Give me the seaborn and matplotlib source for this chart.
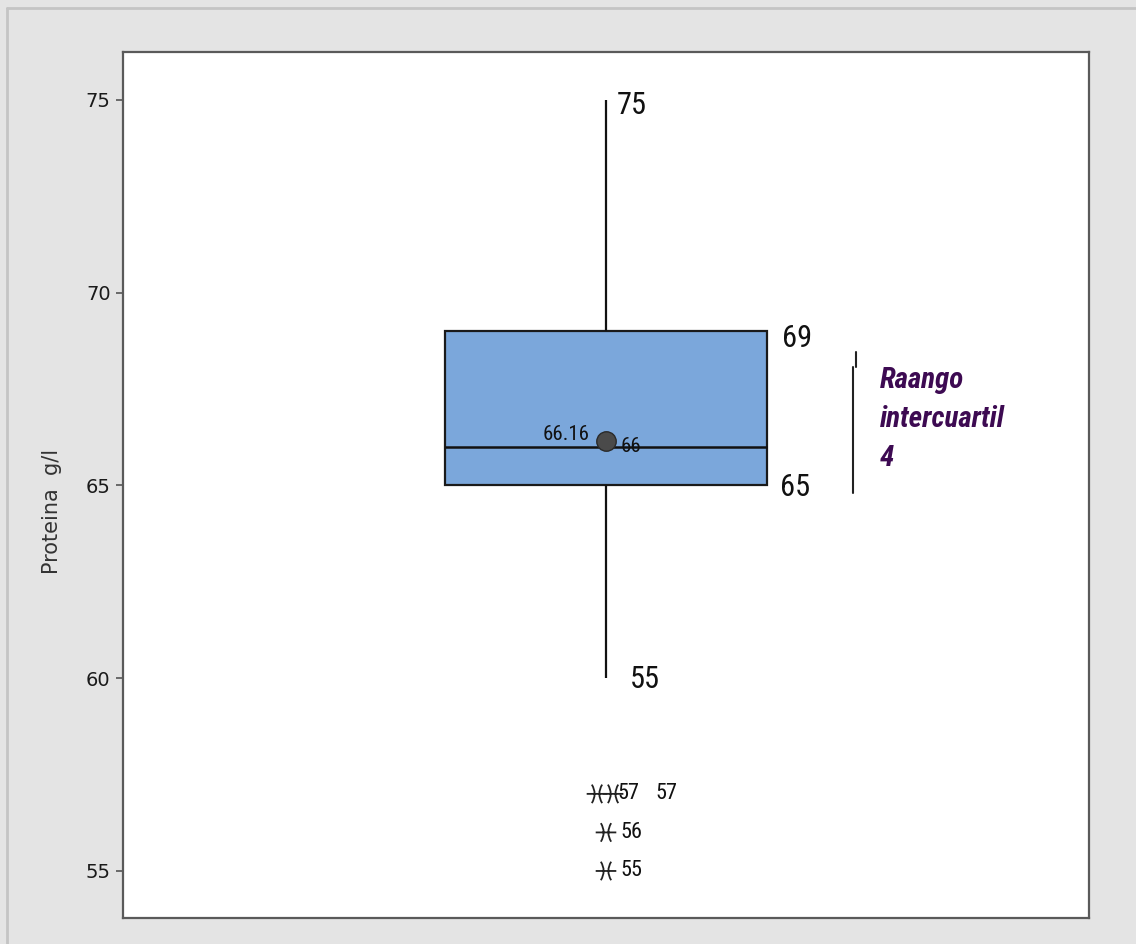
import numpy as np
import matplotlib
matplotlib.use("Agg")
import matplotlib.pyplot as plt
import matplotlib.font_manager as fm
import seaborn as sns
from matplotlib.path import Path
from matplotlib.lines import Line2D

proteina = [55, 56, 57, 57, 60, 65, 65, 65, 65, 66, 66, 66, 66,
            67, 68, 68, 69, 69, 69, 70, 71, 72, 73, 74, 75]
etiquetas_caja = ["75", "69", "65", "55"]   # bigote sup, Q3, Q1, bigote inf (tal como en el original)
yticks = [55, 60, 65, 70, 75]
texto_rango = "Raango\nintercuartil\n4"

sns.set_theme(style="white")
plt.rcParams["font.family"] = ["DejaVu Sans"]

# fuente estrecha para las etiquetas, si hay alguna instalada
fuentes = fm.fontManager.ttflist
nombres = {f.name for f in fuentes}
stretch = "normal"
narrow_fam = None
for cand in ["Liberation Sans Narrow", "Roboto Condensed", "Open Sans Condensed",
             "Noto Sans Condensed", "Arial Narrow"]:
    if cand in nombres:
        narrow_fam = cand
        break
if narrow_fam is None:
    cond = [f for f in fuentes if f.stretch in ("condensed", "semi-condensed", "extra-condensed", 75, 87, 62)]
    if cond:
        narrow_fam = cond[0].name
        stretch = "condensed"
    else:
        narrow_fam = "Liberation Sans" if "Liberation Sans" in nombres else "DejaVu Sans"
narrow = [narrow_fam, "DejaVu Sans"]
tk = dict(family=narrow, fontstretch=stretch)

fig = plt.figure(figsize=(11.36, 9.44), dpi=100, facecolor="#e4e4e4")
ax = fig.add_axes([123 / 1136, 26 / 944, 966 / 1136, 866 / 944])
ax.set_facecolor("white")

sns.boxplot(y=proteina, ax=ax, width=0.5, color="#7ba7db", saturation=1,
            showcaps=False, showfliers=False, showmeans=True,
            linewidth=1.6, linecolor="#1a1a1a",
            medianprops=dict(color="#111111", linewidth=1.8),
            whiskerprops=dict(color="#111111", linewidth=1.6),
            meanprops=dict(marker="o", markerfacecolor="#4a4a4a",
                           markeredgecolor="#2a2a2a", markersize=14))

# estadisticos
datos = np.array(proteina)
q1, med, q3 = np.percentile(datos, [25, 50, 75])
iqr = q3 - q1
dentro = datos[(datos >= q1 - 1.5 * iqr) & (datos <= q3 + 1.5 * iqr)]
w_lo, w_hi = dentro.min(), dentro.max()
media = datos.mean()
atipicos = np.sort(datos[(datos < q1 - 1.5 * iqr) | (datos > q3 + 1.5 * iqr)])

# simbolo de atipico tipo Minitab
verts = [(-1, 0), (1, 0),
         (-0.5, 0.9), (0.05, 0), (-0.5, -0.9),
         (0.5, 0.9), (-0.05, 0), (0.5, -0.9)]
codes = [Path.MOVETO, Path.LINETO,
         Path.MOVETO, Path.CURVE3, Path.CURVE3,
         Path.MOVETO, Path.CURVE3, Path.CURVE3]
ast = Path(verts, codes)

vals, cnts = np.unique(atipicos, return_counts=True)
for v, c in zip(vals, cnts):
    offs = [0.0] if c == 1 else list(np.linspace(-0.014, 0.011, c))
    for k, dx in enumerate(offs):
        ax.scatter([dx], [v], marker=ast, s=220, facecolors="none",
                   edgecolors="#222222", linewidths=1.3, zorder=4)
        lab_x = 0.022 if c == 1 else (0.017 + 0.059 * k)
        ax.text(lab_x, v, f"{v:g}", ha="left", va="center", fontsize=16,
                color="#111111", **tk)

# etiquetas de la caja
pos_caja = [(0.017, w_hi - 0.13), (0.273, q3 - 0.18), (0.27, q1 - 0.05), (0.037, w_lo - 0.04)]
for (x, y), t in zip(pos_caja, etiquetas_caja):
    ax.text(x, y, t, ha="left", va="center", fontsize=22, color="#111111", **tk)
ax.text(-0.025, med + 0.31, f"{media:.2f}", ha="right", va="center", fontsize=15,
        color="#111111", **tk)
ax.text(0.022, med, f"{med:g}", ha="left", va="center", fontsize=15,
        color="#111111", **tk)

# corchete del rango intercuartil
ax.add_line(Line2D([0.384, 0.384], [q1 - 0.2, q3 - 0.93], color="#222222", lw=1.5))
ax.add_line(Line2D([0.388, 0.388], [q3 - 0.93, q3 - 0.54], color="#222222", lw=1.5))
ax.text(0.425, q3 - 0.9, texto_rango, ha="left", va="top", fontsize=21,
        fontweight="bold", fontstyle="italic", color="#3d0a52",
        linespacing=1.5, **tk)

ax.set_xlim(-0.75, 0.75)
ax.set_ylim(53.78, 76.245)
ax.set_xticks([])
ax.set_yticks(yticks)
ax.set_yticklabels([str(t) for t in yticks], fontsize=14, color="#1a1a1a")
ax.tick_params(axis="y", left=True, length=5, width=1.2, color="#555555", pad=4)
ax.set_ylabel("Proteina  g/l", fontsize=15, color="#333333")
ax.yaxis.set_label_coords(-0.063, 0.47)
for s in ax.spines.values():
    s.set_color("#5a5a5a")
    s.set_linewidth(1.6)

# borde claro de la ventana
fig.add_artist(Line2D([7 / 1136, 1], [1 - 8 / 944, 1 - 8 / 944], color="#c4c4c4", lw=2,
                      transform=fig.transFigure))
fig.add_artist(Line2D([7 / 1136, 7 / 1136], [0, 1 - 8 / 944], color="#c4c4c4", lw=2,
                      transform=fig.transFigure))

fig.savefig("out.png", dpi=100, facecolor=fig.get_facecolor())
